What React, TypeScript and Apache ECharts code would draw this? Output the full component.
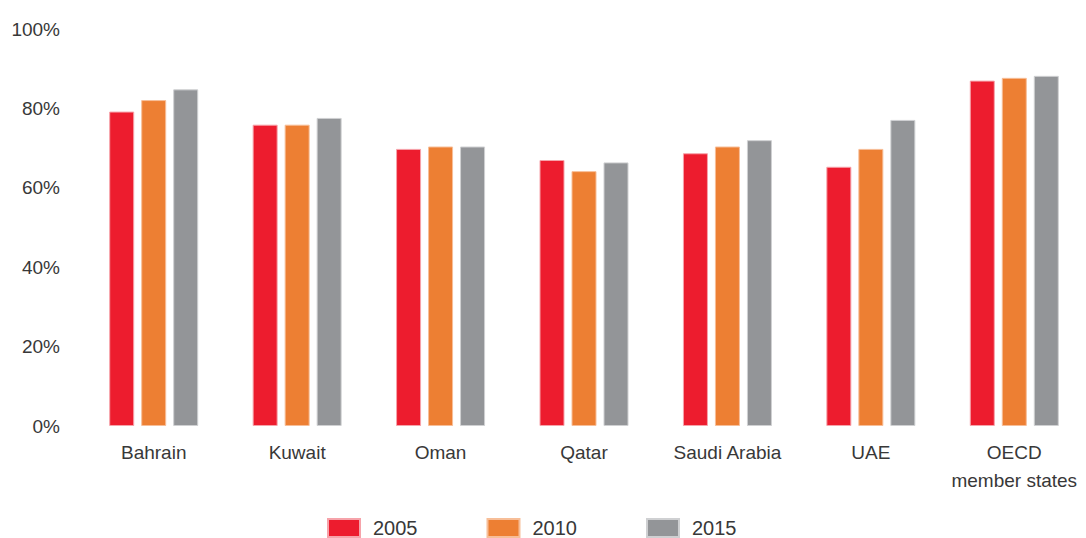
import React, { useEffect, useRef } from "react";
import * as echarts from "echarts";

const categories = ["Bahrain", "Kuwait", "Oman", "Qatar", "Saudi Arabia", "UAE", "OECD\nmember states"];
const seriesNames = ["2005", "2010", "2015"];
const values2005 = [79.2, 75.9, 69.8, 67.0, 68.7, 65.3, 87.0];
const values2010 = [82.1, 75.9, 70.4, 64.2, 70.4, 69.8, 87.7];
const values2015 = [84.8, 77.6, 70.4, 66.4, 72.0, 77.1, 88.2];
const yTicks = [0, 20, 40, 60, 80, 100];

const colors = ["#ED1C2E", "#ED7F33", "#939598"];
const borders = ["#F6A3AA", "#F7BE98", "#CFD0D2"];
const FONT = "'Liberation Sans', Arial, sans-serif";
const TEXT = "#383838";

export default function App() {
  const ref = useRef<HTMLDivElement>(null);
  useEffect(() => {
    if (!ref.current) return;
    const chart = echarts.init(ref.current, null, { renderer: "svg" });
    const data = [values2005, values2010, values2015];
    chart.setOption({
      animation: false,
      grid: { left: 82, top: 29, width: 1011, height: 397, containLabel: false },
      legend: {
        left: 322,
        top: 513,
        itemWidth: 32,
        itemHeight: 18,
        itemGap: 69,
        icon: "rect",
        data: seriesNames,
        textStyle: { fontFamily: FONT, fontSize: 20, color: TEXT, padding: [0, 0, 0, 8] },
      },
      xAxis: {
        type: "category",
        data: categories,
        axisLine: { show: false },
        axisTick: { show: false },
        axisLabel: { interval: 0, margin: 12, fontFamily: FONT, fontSize: 19, color: TEXT, lineHeight: 28 },
      },
      yAxis: {
        type: "value",
        min: yTicks[0],
        max: yTicks[yTicks.length - 1],
        interval: 20,
        axisLine: { show: false },
        axisTick: { show: false },
        splitLine: { show: false },
        axisLabel: { margin: 22, fontFamily: FONT, fontSize: 19, color: TEXT, formatter: "{value}%" },
      },
      series: seriesNames.map((name, i) => ({
        name,
        type: "bar",
        data: data[i],
        barWidth: 25,
        barGap: "28%",
        itemStyle: { color: colors[i], borderColor: borders[i], borderWidth: 1 },
      })),
    });
    return () => chart.dispose();
  }, []);
  return (
    <div
      ref={ref}
      style={{ position: "absolute", left: 0, top: 0, width: 1086, height: 538 }}
    />
  );
}
